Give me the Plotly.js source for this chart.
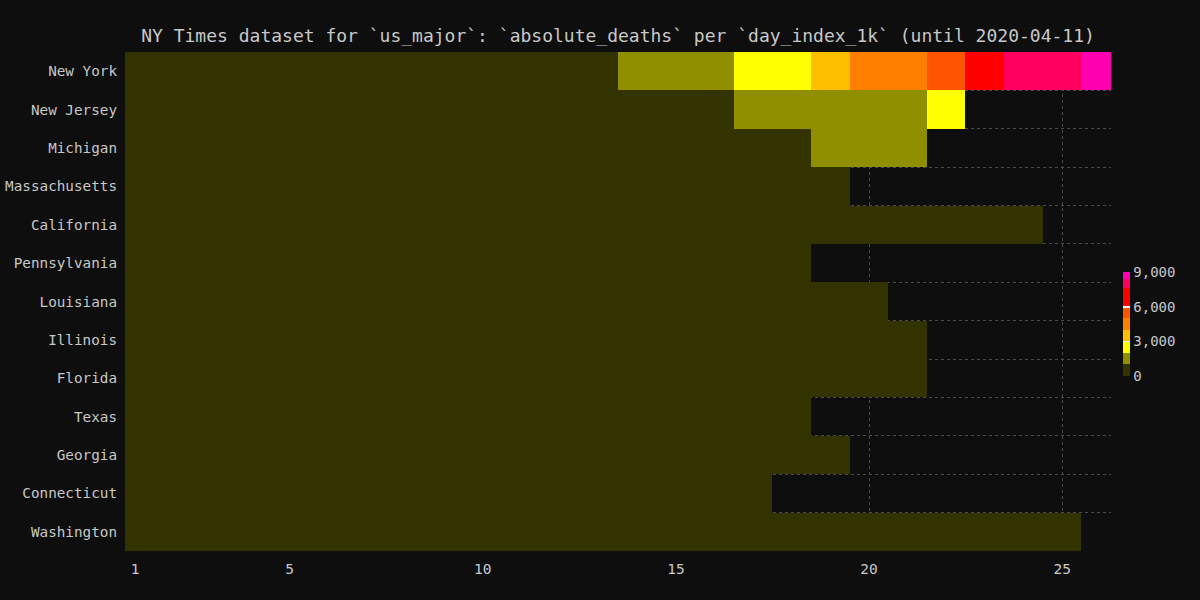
<!DOCTYPE html>
<html>
<head>
<meta charset="utf-8">
<script src="https://cdn.plot.ly/plotly-3.0.1.min.js"></script>
<style>html,body{margin:0;padding:0;background:#0e0e0e;}#chart{width:1200px;height:600px;}</style>
</head>
<body>
<div id="chart"></div>
<script>
const states = ["New York","New Jersey","Michigan","Massachusetts","California","Pennsylvania","Louisiana","Illinois","Florida","Texas","Georgia","Connecticut","Washington"];
const days = [1,2,3,4,5,6,7,8,9,10,11,12,13,14,15,16,17,18,19,20,21,22,23,24,25,26];

const newYork      = [10,17,30,60,95,140,210,285,385,519,728,884,965,1218,1550,1941,2373,2935,3565,4159,4758,5489,6268,7700,8100,8627];
const newJersey    = [16,20,27,44,62,81,108,140,161,198,267,355,537,646,846,917,1003,1232,1504,1700,1932,2350];
const michigan     = [3,8,15,24,43,60,92,111,132,184,259,337,417,479,540,617,727,845,1002,1076,1281];
const massachusetts= [5,9,11,15,25,35,44,48,56,89,122,154,192,216,260,356,433,503,599];
const california   = [18,19,24,28,35,39,50,65,78,90,102,123,150,171,199,237,276,319,374,433,499,541,580,609];
const pennsylvania = [2,6,7,11,17,22,34,49,63,74,102,136,173,240,309,338,416,494];
const louisiana    = [20,26,34,46,65,83,119,137,151,185,239,273,310,370,409,477,512,582,652,702];
const illinois     = [9,12,16,19,26,34,47,66,73,99,141,157,210,243,274,307,380,462,528,596,677];
const florida      = [9,12,13,17,22,28,34,56,68,86,104,150,170,195,221,254,296,309,356,390,446];
const texas        = [5,8,9,12,17,27,34,41,58,77,91,114,140,164,187,200,226,254];
const georgia      = [25,32,38,48,64,69,79,102,111,139,163,176,208,229,294,329,362,381,416];
const connecticut  = [10,12,15,21,27,33,36,69,85,112,131,165,189,206,277,335,380];
const washington   = [37,42,48,55,66,74,83,94,96,110,123,136,150,175,189,200,224,247,310,338,373,394,431,446,483];

const xTickVals = [1,5,10,15,20,25];
const cbTickVals = [0,3000,6000,9000];

const rows = [newYork,newJersey,michigan,massachusetts,california,pennsylvania,louisiana,illinois,florida,texas,georgia,connecticut,washington];
const z = rows.map(r => days.map((d,i) => (i < r.length ? r[i] : null)));

const zmax = 9000;
const bands = [
  [0,1000,'#333300'],[1000,2000,'#8f8f00'],[2000,3000,'#ffff00'],[3000,4000,'#ffbf00'],
  [4000,5000,'#ff8000'],[5000,6000,'#ff5500'],[6000,7600,'#ff0000'],[7600,8400,'#ff0060'],[8400,9000,'#ff00b0']
];
const colorscale = [];
bands.forEach(b => { colorscale.push([b[0]/zmax, b[2]]); colorscale.push([b[1]/zmax, b[2]]); });

const trace = {
  type: 'heatmap',
  x: days,
  y: states,
  z: z,
  zmin: 0,
  zmax: zmax,
  colorscale: colorscale,
  hoverongaps: false,
  colorbar: {
    thickness: 7, thicknessmode: 'pixels',
    len: 104, lenmode: 'pixels',
    x: 1.0118, xanchor: 'left', xpad: 0,
    y: 0.4545, yanchor: 'middle', ypad: 0,
    outlinewidth: 0,
    tickvals: cbTickVals, tickformat: ',',
    ticks: 'inside', ticklen: 7, tickcolor: '#f2f2f2', tickwidth: 1.5,
    tickfont: {family: 'DejaVu Sans Mono', size: 14, color: '#c8c8c8'}
  }
};

const layout = {
  width: 1200, height: 600,
  paper_bgcolor: '#0e0e0e', plot_bgcolor: '#0e0e0e',
  font: {family: 'DejaVu Sans Mono', size: 14, color: '#c8c8c8'},
  margin: {l: 125, r: 89, t: 52, b: 49},
  title: {
    text: 'NY Times dataset for `us_major`: `absolute_deaths` per `day_index_1k` (until 2020-04-11)',
    font: {family: 'DejaVu Sans Mono', size: 18, color: '#c8c8c8'},
    x: 0.5, xref: 'paper', xanchor: 'center',
    y: 0.94, yref: 'container', yanchor: 'middle'
  },
  xaxis: {
    range: [0.735, 26.265],
    tickvals: xTickVals,
    showgrid: true, gridcolor: '#4a4a4a', griddash: 'dot', gridwidth: 1,
    zeroline: false, showline: false,
    ticks: '', ticklabelstandoff: 7,
    tickfont: {family: 'DejaVu Sans Mono', size: 14.5, color: '#c8c8c8'}
  },
  yaxis: {
    type: 'category',
    autorange: 'reversed',
    tickson: 'boundaries',
    showgrid: true, gridcolor: '#4a4a4a', griddash: 'dot', gridwidth: 1,
    zeroline: false, showline: false,
    ticks: '', ticklabelstandoff: 7,
    tickfont: {family: 'DejaVu Sans Mono', size: 14.3, color: '#c8c8c8'}
  }
};

Plotly.newPlot('chart', [trace], layout, {displayModeBar: false, staticPlot: true});
</script>
</body>
</html>
